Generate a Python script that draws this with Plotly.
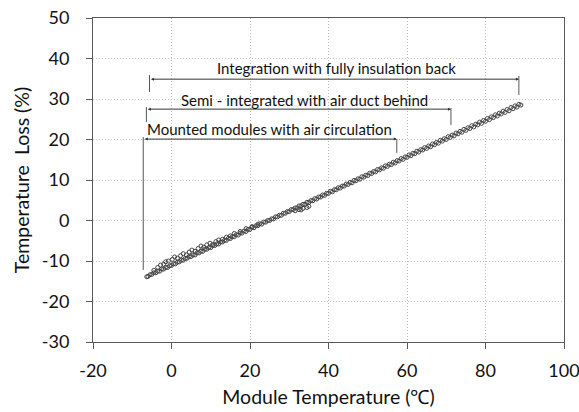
import plotly.graph_objects as go

# Main track of measured points (module temperature, temperature loss)
temp_main = [-6.3, -6, -5, -4, -3, -2, -1, 0, 1, 2, 3, 4, 5, 6, 7, 8, 9, 10, 11, 12, 13, 14,
             15, 16, 17, 18, 19, 20, 21, 22, 23, 24, 25, 26, 27, 28, 29, 30, 31, 32, 33, 34,
             35, 36, 37, 38, 39, 40, 41, 42, 43, 44, 45, 46, 47, 48, 49, 50, 51, 52, 53, 54,
             55, 56, 57, 58, 59, 60, 61, 62, 63, 64, 65, 66, 67, 68, 69, 70, 71, 72, 73, 74,
             75, 76, 77, 78, 79, 80, 81, 82, 83, 84, 85, 86, 87, 88, 89]
loss_main = [-13.9, -13.8, -13.3, -12.9, -12.5, -12.0, -11.6, -11.1, -10.7, -10.2, -9.8, -9.3,
             -8.9, -8.5, -8.0, -7.6, -7.1, -6.7, -6.2, -5.8, -5.3, -4.9, -4.45, -4.0, -3.6,
             -3.1, -2.7, -2.2, -1.8, -1.3, -0.9, -0.4, 0.0, 0.4, 0.9, 1.3, 1.8, 2.2, 2.7, 3.1,
             3.6, 4.0, 4.45, 4.9, 5.3, 5.8, 6.2, 6.7, 7.1, 7.6, 8.0, 8.5, 8.9, 9.3, 9.8, 10.2,
             10.7, 11.1, 11.6, 12.0, 12.5, 12.9, 13.35, 13.8, 14.2, 14.7, 15.1, 15.6, 16.0,
             16.5, 16.9, 17.4, 17.8, 18.2, 18.7, 19.1, 19.6, 20.0, 20.5, 20.9, 21.4, 21.8,
             22.25, 22.7, 23.1, 23.6, 24.0, 24.5, 24.9, 25.4, 25.8, 26.3, 26.7, 27.1, 27.6,
             28.0, 28.5]

# Second, interleaved track of measured points
temp_mid = [-5.5, -4.5, -3.5, -2.5, -1.5, -0.5, 0.5, 1.5, 2.5, 3.5, 4.5, 5.5, 6.5, 7.5, 8.5,
            9.5, 10.5, 11.5, 12.5, 13.5, 14.5, 15.5, 16.5, 17.5, 18.5, 19.5, 20.5, 21.5, 22.5,
            23.5, 24.5, 25.5, 26.5, 27.5, 28.5, 29.5, 30.5, 31.5, 32.5, 33.5, 34.5, 35.5, 36.5,
            37.5, 38.5, 39.5, 40.5, 41.5, 42.5, 43.5, 44.5, 45.5, 46.5, 47.5, 48.5, 49.5, 50.5,
            51.5, 52.5, 53.5, 54.5, 55.5, 56.5, 57.5, 58.5, 59.5, 60.5, 61.5, 62.5, 63.5, 64.5,
            65.5, 66.5, 67.5, 68.5, 69.5, 70.5, 71.5, 72.5, 73.5, 74.5, 75.5, 76.5, 77.5, 78.5,
            79.5, 80.5, 81.5, 82.5, 83.5, 84.5, 85.5, 86.5, 87.5, 88.5]
loss_mid = [-13.4, -12.9, -12.5, -12.0, -11.6, -11.2, -10.7, -10.3, -9.8, -9.4, -8.9, -8.5,
            -8.0, -7.6, -7.1, -6.7, -6.2, -5.8, -5.3, -4.9, -4.4, -4.0, -3.5, -3.1, -2.6,
            -2.2, -1.7, -1.3, -0.8, -0.4, 0.0, 0.4, 0.9, 1.3, 1.8, 2.2, 2.7, 3.1, 3.6, 4.0,
            4.5, 4.9, 5.4, 5.8, 6.3, 6.7, 7.2, 7.6, 8.1, 8.5, 9.0, 9.4, 9.9, 10.3, 10.8, 11.2,
            11.7, 12.1, 12.6, 13.0, 13.5, 13.9, 14.4, 14.8, 15.3, 15.7, 16.2, 16.6, 17.1,
            17.5, 18.0, 18.4, 18.9, 19.3, 19.8, 20.2, 20.7, 21.1, 21.6, 22.0, 22.5, 22.9,
            23.4, 23.8, 24.3, 24.7, 25.2, 25.6, 26.1, 26.5, 27.0, 27.4, 27.9, 28.3, 28.7]

# Scattered points above the line at low temperatures, and a small group near 33 °C
temp_cloud = [-4.5, -3.5, -2.8, -2.0, -1.5, -0.8, 0.2, 0.8, 1.5, 2.3, 3.0, 3.8, 4.5, 5.2,
              6.0, 6.8, 7.5, 8.2, 9.0, 9.8, 10.5, 11.3, 12.0, 13.0, 14.0, 15.0, 16.0, 17.5,
              19.0, 20.5, 22.0, 31.5, 32.5, 33.0, 33.5, 34.5, 35.0]
loss_cloud = [-12.3, -11.6, -11.0, -10.8, -10.2, -10.0, -9.6, -9.0, -9.3, -8.7, -8.2, -8.5,
              -7.8, -7.3, -7.6, -6.9, -6.3, -6.6, -6.0, -5.6, -5.9, -5.2, -4.8, -4.6, -4.1,
              -3.8, -3.2, -2.7, -2.0, -1.5, -0.9, 2.4, 2.7, 2.6, 3.0, 3.2, 3.5]

# Range brackets: label, start x, end x, arrow y, left tick (y0, y1), right tick (y0, y1)
range_labels = ["Integration with fully insulation back",
                "Semi - integrated with air duct behind",
                "Mounted modules with air circulation"]
range_x0 = [-5.6, -6.4, -7.2]
range_x1 = [88.5, 71.2, 57.4]
range_y = [34.9, 27.5, 20.1]
left_tick = [(31.7, 35.9), (24.3, 28.0), (-12.2, 20.6)]
right_tick = [(31.0, 35.7), (23.6, 27.8), (16.7, 20.1)]
label_x = [42, 34, 25]
label_y = [37.7, 29.7, 22.5]

x_ticks = [-20, 0, 20, 40, 60, 80, 100]
x_tick_text = ["-20", "0", "20", "40", "60", "80", "100"]
y_ticks = [-30, -20, -10, 0, 10, 20, 30, 40, 50]
y_tick_text = ["-30", "-20", "-10", "0", "10", "20", "30", "40", "50"]

FONT = "Lato, 'Open Sans', sans-serif"
AX = "#595959"

fig = go.Figure()
marker = dict(symbol="circle-open", size=4, color="#454545", line=dict(width=1))
for tx, ty in [(temp_main, loss_main), (temp_mid, loss_mid), (temp_cloud, loss_cloud)]:
    fig.add_trace(go.Scatter(x=tx, y=ty, mode="markers", marker=marker,
                             showlegend=False, hoverinfo="x+y"))

shapes = []
annotations = []
for i in range(3):
    shapes.append(dict(type="line", xref="x", yref="y", x0=range_x0[i], x1=range_x0[i],
                       y0=left_tick[i][0], y1=left_tick[i][1], line=dict(color="#555", width=1)))
    shapes.append(dict(type="line", xref="x", yref="y", x0=range_x1[i], x1=range_x1[i],
                       y0=right_tick[i][0], y1=right_tick[i][1], line=dict(color="#555", width=1)))
    annotations.append(dict(x=range_x1[i], y=range_y[i], ax=range_x0[i], ay=range_y[i],
                            xref="x", yref="y", axref="x", ayref="y", text="",
                            showarrow=True, arrowhead=2, arrowside="end+start",
                            arrowsize=0.6, arrowwidth=1, arrowcolor="#333"))
    annotations.append(dict(x=label_x[i], y=label_y[i], xref="x", yref="y",
                            text=range_labels[i], showarrow=False,
                            font=dict(family=FONT, size=15, color="#111")))

GRID_DASH = "1px,2px"

fig.update_layout(
    width=579, height=412,
    margin=dict(l=93, r=15, t=18, b=70),
    paper_bgcolor="white", plot_bgcolor="white",
    font=dict(family=FONT, size=17, color="#111"),
    shapes=shapes, annotations=annotations,
    xaxis=dict(range=[-20, 100], tickvals=x_ticks, ticktext=x_tick_text, showgrid=True,
               gridcolor="#b8b8b8", griddash=GRID_DASH, gridwidth=1, zeroline=False,
               showline=True, linecolor=AX, linewidth=1, mirror=True, ticks="outside",
               ticklen=6, tickcolor=AX, ticklabelstandoff=6, automargin=False,
               ticklabeloverflow="allow", tickfont=dict(size=18),
               title=dict(text="Module Temperature (℃)", font=dict(size=19.5), standoff=10)),
    yaxis=dict(range=[-30, 50], tickvals=y_ticks, ticktext=y_tick_text, showgrid=True,
               gridcolor="#c4c4c4", griddash=GRID_DASH, gridwidth=1, zeroline=False,
               showline=True, linecolor=AX, linewidth=1, mirror=True, ticks="outside",
               ticklen=6, tickcolor=AX, ticklabelstandoff=13, automargin=False,
               ticklabeloverflow="allow", tickfont=dict(size=18),
               title=dict(text="Temperature  Loss (%)", font=dict(size=19.5), standoff=6)),
)

fig.write_html("out.html")
